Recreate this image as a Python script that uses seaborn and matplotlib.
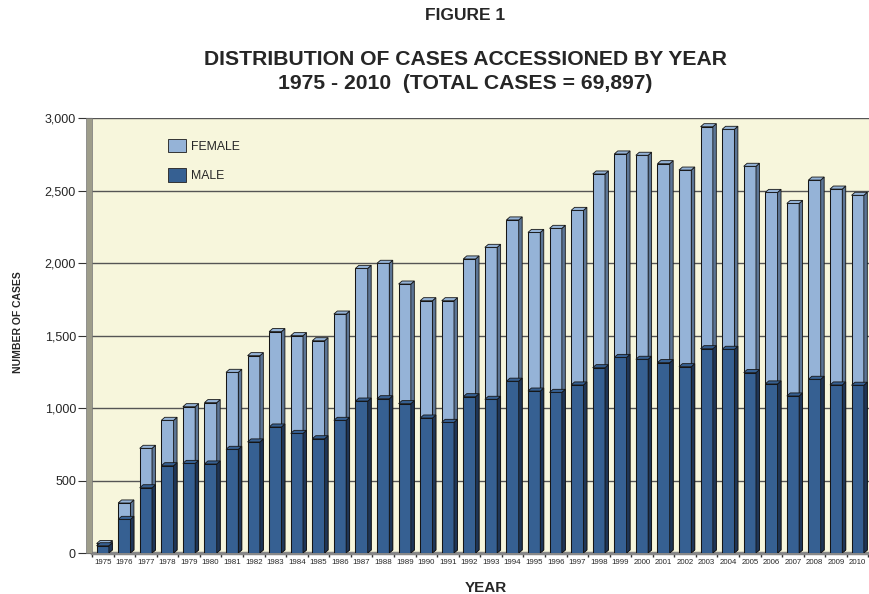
import numpy as np
import pandas as pd
import matplotlib.pyplot as plt
import seaborn as sns
from matplotlib.patches import Polygon, Rectangle, Patch
from matplotlib.ticker import FuncFormatter, FixedLocator

years = [str(y) for y in range(1975, 2011)]
total = [65, 345, 722, 915, 1009, 1037, 1246, 1361, 1527, 1499, 1464, 1648,
         1963, 1998, 1855, 1740, 1740, 2028, 2108, 2297, 2211, 2239, 2363, 2614,
         2752, 2743, 2685, 2641, 2940, 2922, 2667, 2487, 2411, 2572, 2510, 2467]
male = [50, 232, 450, 602, 618, 614, 715, 766, 869, 825, 788, 915,
        1048, 1064, 1030, 931, 901, 1078, 1060, 1185, 1117, 1108, 1159, 1278,
        1349, 1336, 1313, 1285, 1409, 1405, 1244, 1166, 1083, 1198, 1159, 1157]

df = pd.DataFrame({'YEAR': years, 'TOTAL': total, 'MALE': male})
df['FEMALE'] = df['TOTAL'] - df['MALE']

c_female = '#95B3D7'
c_male = '#366092'
c_female_side = '#5C7595'
c_male_side = '#1E3556'

sns.set_theme(style='white')
plt.rcParams['font.family'] = ['Liberation Sans', 'DejaVu Sans']

fig = plt.figure(figsize=(8.7, 5.94), dpi=100)
# plot area: x 92..870 px, y 118..553 px
ax = fig.add_axes([0.1057, 0.069, 0.8943, 0.7323])
ax.set_facecolor('#F7F6DC')

# gridlines
for v in range(500, 3001, 500):
    ax.axhline(v, color='#555555', lw=1.0, zorder=0.5)

sns.barplot(data=df, x='YEAR', y='TOTAL', color=c_female, width=0.57,
            edgecolor='#151515', linewidth=0.75, saturation=1, ax=ax, zorder=2)
n = len(ax.patches)
sns.barplot(data=df, x='YEAR', y='MALE', color=c_male, width=0.57,
            edgecolor='#151515', linewidth=0.75, saturation=1, ax=ax, zorder=3)

# fake 3D side and top faces
dx, dy = 0.16, 21
for i, p in enumerate(ax.patches):
    x, w, h = p.get_x(), p.get_width(), p.get_height()
    is_male = i >= n
    side_c = c_male_side if is_male else c_female_side
    top_c = c_male if is_male else c_female
    z = 3.1 if is_male else 2.1
    side = Polygon([(x + w, 0), (x + w + dx, dy), (x + w + dx, h + dy), (x + w, h)],
                   closed=True, facecolor=side_c, edgecolor='#151515', lw=0.6, zorder=z)
    top = Polygon([(x, h), (x + dx, h + dy), (x + w + dx, h + dy), (x + w, h)],
                  closed=True, facecolor=top_c, edgecolor='#151515', lw=0.6, zorder=z)
    ax.add_patch(side)
    ax.add_patch(top)

ax.set_ylim(0, 3000)
ax.set_xlim(-0.33, 35.57)

ax.yaxis.set_major_locator(FixedLocator(range(0, 3001, 500)))
ax.yaxis.set_major_formatter(FuncFormatter(lambda v, _: f'{int(v):,}'))
ax.tick_params(axis='y', labelsize=9, length=10, width=0.8, color='#333333',
               left=True, pad=1.5)
ax.tick_params(axis='x', labelsize=5.7, length=0, pad=4)
ax.set_xticks(range(len(years)))
ax.set_xticks(np.arange(-0.5, len(years), 1), minor=True)
ax.tick_params(axis='x', which='minor', length=3, color='#333333', bottom=True)

for s in ['top', 'right', 'left']:
    ax.spines[s].set_visible(False)
ax.spines['bottom'].set_color('#888888')
ax.spines['bottom'].set_linewidth(2.5)
ax.axhline(3000, color='#555555', lw=1.2, zorder=0.5)

# left wall
ax.add_patch(Rectangle((-0.0075, 0), 0.0075, 1, transform=ax.transAxes, clip_on=False,
                       facecolor='#9E9D8B', edgecolor='#777777', lw=0.5, zorder=5))

ax.set_xlabel('')
ax.set_ylabel('')
fig.text(0.559, 1 - 592 / 594, 'YEAR', ha='center', va='baseline',
         fontsize=11, fontweight='bold')
fig.text(0.0207, 1 - 322 / 594, 'NUMBER OF CASES', ha='center', va='center',
         rotation=90, fontsize=7.5, fontweight='bold')

handles = [Patch(facecolor=c_female, edgecolor='#333333', lw=0.7, label='FEMALE'),
           Patch(facecolor=c_male, edgecolor='#333333', lw=0.7, label='MALE')]
ax.legend(handles=handles, loc='upper left', bbox_to_anchor=(0.0977, 0.952),
          frameon=False, borderpad=0, borderaxespad=0, fontsize=8.8,
          handlelength=1.47, handleheight=1.28, labelspacing=1.3, handletextpad=0.4)

fig.text(0.535, 1 - 20 / 594, 'FIGURE 1', ha='center', va='baseline',
         fontsize=12.5, fontweight='bold')
fig.text(0.535, 1 - 65 / 594, 'DISTRIBUTION OF CASES ACCESSIONED BY YEAR',
         ha='center', va='baseline', fontsize=15.2, fontweight='bold')
fig.text(0.535, 1 - 89 / 594, '1975 - 2010  (TOTAL CASES = 69,897)',
         ha='center', va='baseline', fontsize=15.2, fontweight='bold')

fig.savefig('out.png', dpi=100)
